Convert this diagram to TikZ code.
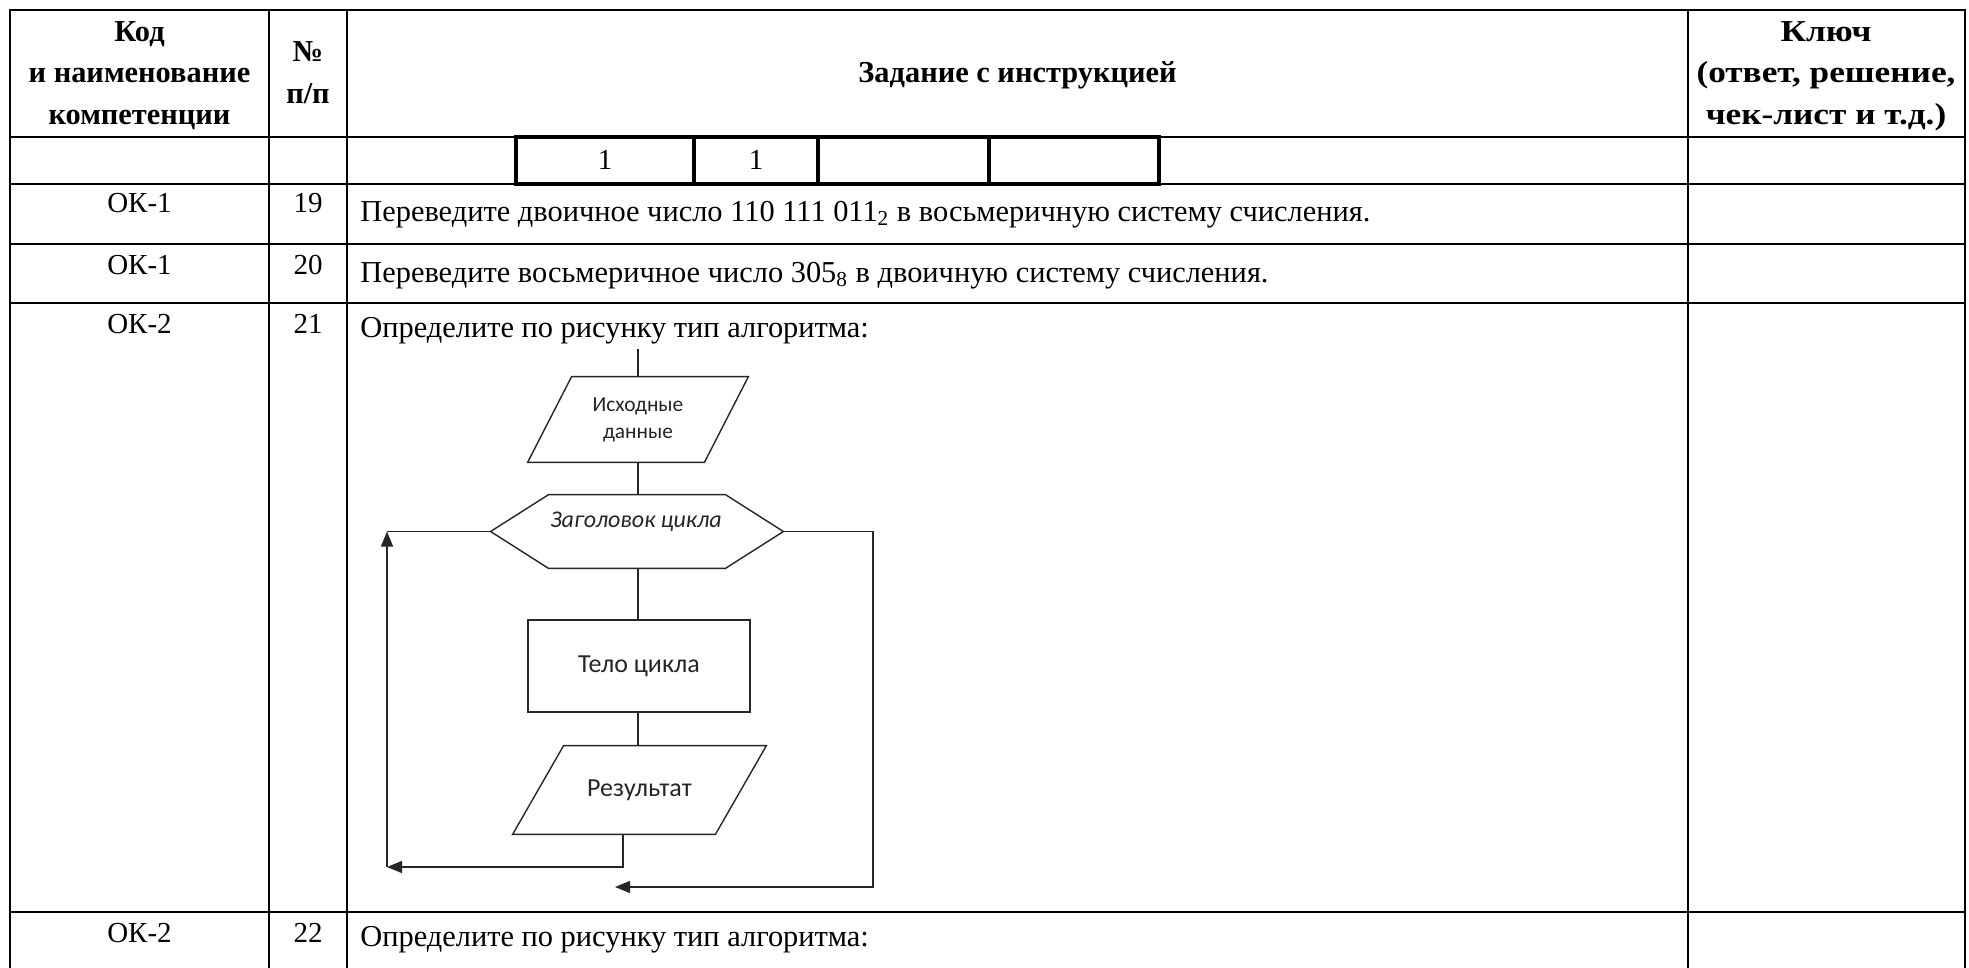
\documentclass[tikz,border=0pt]{standalone}
\usepackage{fontspec}
\setmainfont{Liberation Serif}
\newfontfamily\flfont{Carlito}
\usetikzlibrary{arrows.meta}
\begin{document}
\begin{tikzpicture}[x=0.5pt,y=-0.5pt,
  tbl/.style={line width=1.1pt,line cap=rect},
  thk/.style={line width=1.7pt},
  hdr/.style={font=\bfseries\fontsize{15.2pt}{18pt}\selectfont,inner sep=0pt,anchor=base},
  cell/.style={font=\fontsize{14.5pt}{17pt}\selectfont,inner sep=0pt,anchor=base},
  task/.style={font=\fontsize{15.2pt}{18pt}\selectfont,inner sep=0pt,anchor=base west},
  fl/.style={draw=black!85,line width=0.7pt},
  flarrow/.style={fl,-{Triangle[length=7.5pt,width=6pt]}},
  fltext/.style={font=\flfont\fontsize{13pt}{15pt}\selectfont,inner sep=0pt,align=center,text=black!85},
  ghost/.style={draw=none,inner sep=0pt,fltext}
]
\useasboundingbox (0,0) rectangle (1969,968);
\fill[white] (0,0) rectangle (1969,968);

% ---- table grid ----
\foreach \xx in {10,269,347,1688,1965} \draw[tbl] (\xx,10) -- (\xx,968);
\foreach \yy in {10,137,184,244,303,912} \draw[tbl] (10,\yy) -- (1965,\yy);

% inner box in row 2
\draw[thk] (516,137) rectangle (1159,184);
\foreach \xx in {694,818,989} \draw[thk] (\xx,137) -- (\xx,184);

% ---- header ----
\node[hdr] (h1a) at (139.5,42) {Код};
\node[hdr] (h1b) at (139.5,83) {и наименование};
\node[hdr] (h1c) at (139.5,125) {компетенции};
\node[hdr] (h2a) at (308,62) {№};
\node[hdr] (h2b) at (308,104) {п/п};
\node[hdr] (h3) at (1017.5,83) {Задание с инструкцией};
\node[hdr] (h4a) at (1826,42) {\scalebox{1.16}[1]{Ключ}};
\node[hdr] (h4b) at (1826,83) {\scalebox{1.16}[1]{(ответ, решение,}};
\node[hdr] (h4c) at (1826,125) {\scalebox{1.16}[1]{чек-лист и т.д.)}};

% row 2
\node[cell] (r2a) at (605,170) {1};
\node[cell] (r2b) at (756,170) {1};

% row 19
\node[cell] (c19a) at (139.5,213) {ОК-1};
\node[cell] (c19b) at (308,213) {19};
\node[task] (c19c) at (360,221) {Переведите двоичное число 110 111 011\textsubscript{2} в восьмеричную систему счисления.};
% row 20
\node[cell] (c20a) at (139.5,274) {ОК-1};
\node[cell] (c20b) at (308,274) {20};
\node[task] (c20c) at (360,282) {Переведите восьмеричное число 305\textsubscript{8} в двоичную систему счисления.};
% row 21
\node[cell] (c21a) at (139.5,333) {ОК-2};
\node[cell] (c21b) at (308,333) {21};
\node[task] (c21c) at (360,337) {Определите по рисунку тип алгоритма:};
% row 22
\node[cell] (c22a) at (139.5,942) {ОК-2};
\node[cell] (c22b) at (308,942) {22};
\node[task] (c22c) at (360,946) {Определите по рисунку тип алгоритма:};

% ---- flowchart ----
\coordinate (start) at (638,349);
\node[ghost,minimum width=88pt,minimum height=42.5pt,font=\flfont\fontsize{10.7pt}{13.5pt}\selectfont] (inp) at (638,419.5) {Исходные\\данные};
\draw[fl] ([xshift=11pt]inp.north west) -- ([xshift=11pt]inp.north east)
  -- ([xshift=-11pt]inp.south east) -- ([xshift=-11pt]inp.south west) -- cycle;

\node[ghost,minimum width=146pt,minimum height=36.5pt] (hex) at (637,531.5) {};
\draw[fl] (hex.west) -- ([xshift=29pt]hex.north west) -- ([xshift=-29pt]hex.north east)
  -- (hex.east) -- ([xshift=-29pt]hex.south east) -- ([xshift=29pt]hex.south west) -- cycle;
\node[fltext,font=\flfont\itshape\fontsize{12pt}{14pt}\selectfont] (hexlabel) at (636,522) {Заголовок цикла};

\node[fl,fltext,minimum width=111pt,minimum height=46pt] (body) at (639,666) {Тело цикла};

\node[ghost,minimum width=101pt,minimum height=44pt] (out) at (639.5,790) {Результат};
\draw[fl] ([xshift=12.75pt]out.north west) -- ([xshift=12.75pt]out.north east)
  -- ([xshift=-12.75pt]out.south east) -- ([xshift=-12.75pt]out.south west) -- cycle;

\coordinate (lb) at (387,867);
\coordinate (lt) at (387,531.5);
\coordinate (rc) at (873,887);
\coordinate (rb) at (615,887);

\draw[fl] (start) -- (start |- inp.north);
\draw[fl] (inp.south -| start) -- (hex.north -| start);
\draw[fl] (hex.south -| start) -- (body.north -| start);
\draw[fl] (body.south -| start) -- (out.north -| start);
\draw[flarrow] (out.south -| 623,0) |- (lb);
\draw[flarrow] (lb) -- (lt);
\draw[fl] (hex.west) -- (lt);
\draw[flarrow] (hex.east) -| (rc) -- (rb);
\end{tikzpicture}
\end{document}
